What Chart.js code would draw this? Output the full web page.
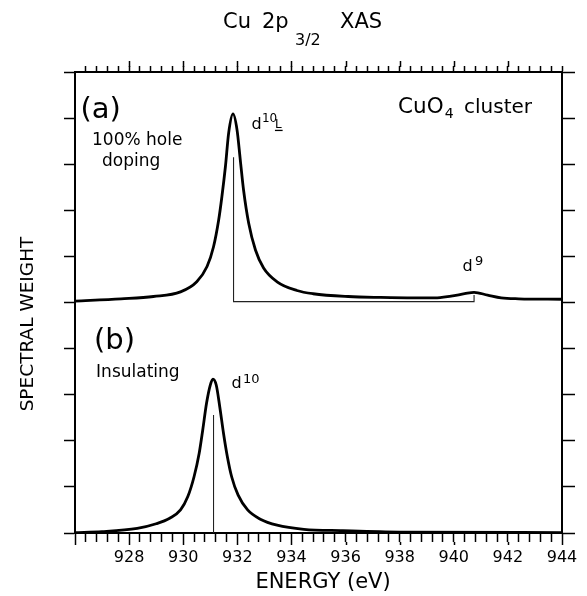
<!DOCTYPE html>
<html>
<head>
<meta charset="utf-8">
<script src="https://cdn.jsdelivr.net/npm/chart.js@4.4.1/dist/chart.umd.min.js"></script>
<style>
  html, body { margin: 0; padding: 0; background: #fff; }
</style>
</head>
<body>
<canvas id="chart_xas" width="587" height="596"></canvas>
<script>
// Energy axis (eV)
const xMin = 926;
const xMax = 944;
const xMinorStep = 0.4;
const xTickLabels = [928, 930, 932, 934, 936, 938, 940, 942, 944];

// Spectral weight axis (arbitrary units, panel (b) 0-5, panel (a) 5-10)
const yMin = 0;
const yMax = 10;

// (a) 100% hole doping spectrum, shifted up by 5
const energyA = [926.0, 927.7, 928.9, 929.9, 930.5, 930.88, 931.12, 931.31, 931.43, 931.56, 931.68, 931.84,
                 931.99, 932.11, 932.23, 932.42, 932.67, 932.97, 933.47, 934.2, 934.8, 936.1, 937.3, 938.5,
                 939.3, 939.9, 940.4, 940.75, 941.25, 941.75, 942.4, 944.0];
const weightA = [5.03, 5.08, 5.13, 5.23, 5.45, 5.78, 6.21, 6.79, 7.30, 7.95, 8.68, 9.09,
                 8.74, 8.09, 7.44, 6.72, 6.14, 5.75, 5.45, 5.26, 5.19, 5.13, 5.11, 5.10,
                 5.10, 5.14, 5.19, 5.22, 5.16, 5.10, 5.08, 5.07];

// (b) insulating spectrum
const energyB = [926.0, 927.0, 928.3, 929.0, 929.5, 929.9, 930.17, 930.40, 930.59, 930.72, 930.86, 931.0,
                 931.1, 931.22, 931.35, 931.49, 931.63, 931.79, 932.03, 932.38, 932.85, 933.47, 934.46,
                 935.9, 938.0, 944.0];
const weightB = [0.01, 0.03, 0.10, 0.20, 0.32, 0.50, 0.79, 1.22, 1.73, 2.23, 2.81, 3.21,
                 3.34, 3.21, 2.74, 2.16, 1.66, 1.22, 0.82, 0.50, 0.30, 0.17, 0.08,
                 0.05, 0.02, 0.01];

// stick spectra (d10L / d9 in (a), d10 in (b))
const stickEnergyA = [931.86, 931.86, 940.75, 940.75];
const stickWeightA = [8.15, 5.02, 5.02, 5.16];
const stickEnergyB = [931.12, 931.12];
const stickWeightB = [0, 2.56];

const FONT = '"DejaVu Sans", sans-serif';

function toPoints(xs, ys) {
    return xs.map((x, i) => ({ x: x, y: ys[i] }));
}

function minorTicks() {
    let ticks = [];
    let n = Math.round((xMax - xMin) / xMinorStep);
    for (let i = 0; i <= n; i++) {
        ticks.push({ value: Math.round((xMin + i * xMinorStep) * 10) / 10 });
    }
    return ticks;
}

function isMajor(v) {
    return Math.abs(v / 2 - Math.round(v / 2)) < 1e-6;
}

// text pieces placed in data coordinates
const annotations = [
    { text: '(a)', e: 926.2, w: 9.0, size: 29 },
    { text: '100% hole', e: 926.63, w: 8.42, size: 17 },
    { text: 'doping', e: 927.0, w: 7.96, size: 17 },
    { text: 'CuO', e: 937.94, w: 9.11, size: 21.5 },
    { text: '4', e: 939.67, w: 9.0, size: 14 },
    { text: 'cluster', e: 940.38, w: 9.11, size: 20 },
    { text: 'd', e: 932.52, w: 8.76, size: 16 },
    { text: '10', e: 932.91, w: 8.92, size: 12 },
    { text: 'L', e: 933.39, w: 8.79, size: 12, underline: true },
    { text: 'd', e: 940.32, w: 5.68, size: 16 },
    { text: '9', e: 940.78, w: 5.81, size: 13 },
    { text: '(b)', e: 926.7, w: 4.0, size: 29 },
    { text: 'Insulating', e: 926.78, w: 3.38, size: 17 },
    { text: 'd', e: 931.78, w: 3.15, size: 16 },
    { text: '10', e: 932.21, w: 3.25, size: 13 }
];

const textPlugin = {
    id: 'xasText',
    afterDraw(chart) {
        let ctx = chart.ctx;
        let sx = chart.scales.x;
        let sy = chart.scales.y;
        ctx.save();
        ctx.fillStyle = '#000';
        ctx.textBaseline = 'alphabetic';
        ctx.textAlign = 'left';

        annotations.forEach(a => {
            let px = sx.getPixelForValue(a.e);
            let py = sy.getPixelForValue(a.w);
            ctx.font = a.size + 'px ' + FONT;
            ctx.fillText(a.text, px, py);
            if (a.underline) {
                let tw = ctx.measureText(a.text).width;
                ctx.fillRect(px, py + 2, tw + 1, 1.3);
            }
        });

        // figure title: Cu 2p_{3/2} XAS
        ctx.font = '21px ' + FONT;
        ctx.fillText('Cu', 223, 28);
        ctx.fillText('2p', 262, 28);
        ctx.fillText('XAS', 340, 28);
        ctx.font = '16px ' + FONT;
        ctx.fillText('3/2', 295, 45);

        // x axis title
        ctx.textAlign = 'center';
        ctx.font = '21px ' + FONT;
        ctx.fillText('ENERGY (eV)', 323, 588);

        // y axis title
        ctx.save();
        ctx.translate(33, 324);
        ctx.rotate(-Math.PI / 2);
        ctx.font = '18.5px ' + FONT;
        ctx.fillText('SPECTRAL WEIGHT', 0, 0);
        ctx.restore();

        // longer major ticks on the energy axes
        ctx.strokeStyle = '#000';
        ctx.lineWidth = 1.5;
        let top = chart.chartArea.top;
        let bottom = chart.chartArea.bottom;
        xTickLabels.concat([926]).forEach(v => {
            let px = Math.round(sx.getPixelForValue(v)) + 0.5;
            ctx.beginPath();
            if (v > xMin && v < xMax) {
                ctx.moveTo(px, top - 5);
                ctx.lineTo(px, top - 11);
            }
            ctx.moveTo(px, bottom + 9);
            ctx.lineTo(px, bottom + 12);
            ctx.stroke();
        });
        ctx.restore();
    }
};

const canvas = document.getElementById('chart_xas');
new Chart(canvas.getContext('2d'), {
    type: 'line',
    data: {
        datasets: [
            {
                data: toPoints(energyA, weightA),
                borderColor: '#000', borderWidth: 2.8,
                pointRadius: 0, cubicInterpolationMode: 'monotone'
            },
            {
                data: toPoints(energyB, weightB),
                borderColor: '#000', borderWidth: 2.8,
                pointRadius: 0, cubicInterpolationMode: 'monotone'
            },
            {
                data: toPoints(stickEnergyA, stickWeightA),
                borderColor: '#222', borderWidth: 1.1,
                pointRadius: 0, tension: 0
            },
            {
                data: toPoints(stickEnergyB, stickWeightB),
                borderColor: '#222', borderWidth: 1.1,
                pointRadius: 0, tension: 0
            }
        ]
    },
    options: {
        responsive: false,
        animation: false,
        layout: { padding: 0 },
        plugins: { legend: { display: false }, tooltip: { enabled: false } },
        scales: {
            x: {
                type: 'linear', position: 'bottom', min: xMin, max: xMax,
                afterBuildTicks: s => { s.ticks = minorTicks(); },
                afterFit: s => { s.height = 63; },
                border: { display: true, color: '#000', width: 2 },
                grid: { drawOnChartArea: false, tickLength: 9, tickWidth: 1.5, tickColor: '#000' },
                ticks: {
                    autoSkip: false, maxRotation: 0, padding: 6, color: '#000',
                    font: { family: FONT, size: 16 },
                    callback: v => (isMajor(v) && xTickLabels.includes(Math.round(v))) ? String(Math.round(v)) : ''
                }
            },
            xTop: {
                type: 'linear', position: 'top', min: xMin, max: xMax,
                afterBuildTicks: s => { s.ticks = minorTicks().filter(t => t.value > xMin); },
                afterFit: s => { s.height = 72; },
                border: { display: true, color: '#000', width: 2 },
                grid: { drawOnChartArea: false, tickLength: 6, tickWidth: 1.5, tickColor: '#000' },
                ticks: { display: false }
            },
            y: {
                type: 'linear', position: 'left', min: yMin, max: yMax,
                afterFit: s => { s.width = 75; },
                border: { display: true, color: '#000', width: 2 },
                grid: { drawOnChartArea: false, tickLength: 11, tickWidth: 1.5, tickColor: '#000' },
                ticks: { stepSize: 1, display: false }
            },
            yRight: {
                type: 'linear', position: 'right', min: yMin, max: yMax,
                afterFit: s => { s.width = 25; },
                border: { display: true, color: '#000', width: 2 },
                grid: { drawOnChartArea: false, tickLength: 13, tickWidth: 1.5, tickColor: '#000' },
                ticks: { stepSize: 1, display: false }
            }
        }
    },
    plugins: [textPlugin]
});
</script>
</body>
</html>
